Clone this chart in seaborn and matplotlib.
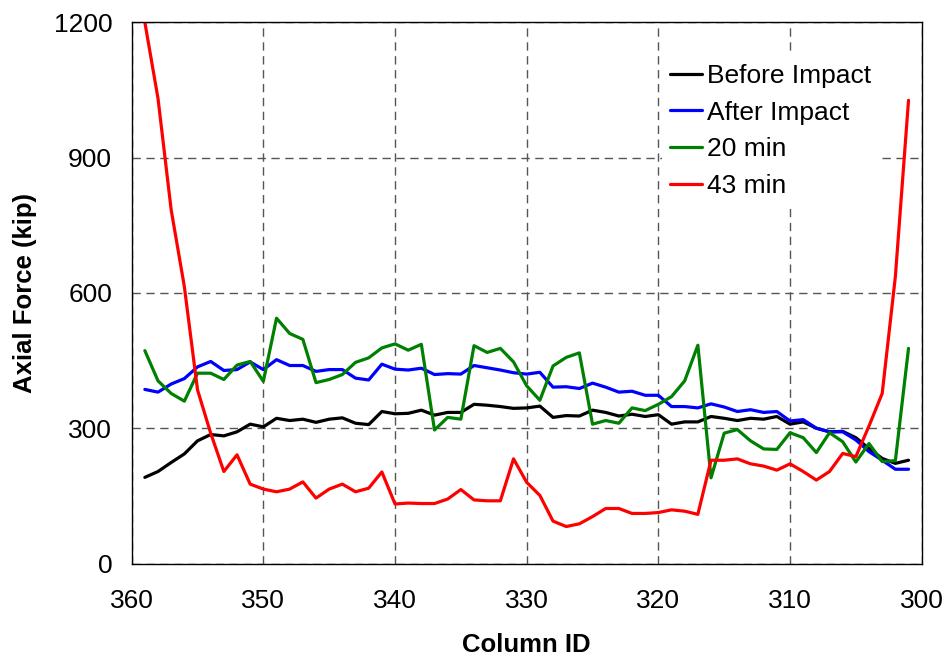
import numpy as np
import pandas as pd
import matplotlib
matplotlib.use("Agg")
import matplotlib.pyplot as plt
import seaborn as sns

# column IDs, read right-to-left on the chart (359 -> 301)
columns = list(range(359, 300, -1))

before_impact = [191, 204, 224, 243, 272, 286, 283, 292, 309, 303,
                 322, 317, 320, 313, 320, 323, 311, 308, 337, 332,
                 333, 340, 329, 335, 335, 353, 351, 348, 344, 345,
                 349, 324, 328, 327, 340, 335, 327, 331, 326, 330,
                 309, 314, 314, 326, 322, 317, 322, 320, 326, 309,
                 314, 300, 292, 293, 279, 255, 233, 222, 229]
after_impact = [386, 380, 398, 410, 436, 448, 428, 430, 447, 430,
                452, 439, 439, 426, 430, 430, 411, 407, 442, 431,
                429, 433, 419, 421, 420, 439, 434, 429, 423, 420,
                424, 391, 392, 388, 400, 391, 380, 382, 373, 373,
                348, 348, 345, 354, 347, 337, 341, 335, 337, 316,
                319, 300, 292, 292, 274, 248, 229, 209, 209]
min_20 = [472, 405, 377, 360, 422, 422, 408, 440, 448, 404,
          544, 510, 497, 401, 408, 419, 446, 456, 478, 487,
          473, 486, 296, 324, 320, 483, 468, 477, 447, 394,
          362, 438, 457, 467, 309, 317, 311, 345, 339, 353,
          370, 405, 484, 190, 289, 297, 272, 254, 253, 290,
          279, 246, 290, 270, 225, 266, 226, 228, 477]
min_43 = [1200, 1031, 784, 614, 385, 289, 204, 241, 176, 165,
          159, 165, 181, 145, 165, 176, 159, 167, 203, 132,
          134, 133, 133, 143, 164, 141, 139, 139, 232, 180,
          151, 94, 82, 88, 104, 122, 122, 111, 111, 113,
          119, 116, 109, 229, 229, 232, 221, 216, 207, 221,
          204, 185, 204, 244, 237, 305, 377, 636, 1027]

series_names = ["Before Impact", "After Impact", "20 min", "43 min"]
series_colors = ["#000000", "#0000FF", "#008000", "#FF0000"]

x_ticks = [360, 350, 340, 330, 320, 310, 300]
y_ticks = [0, 300, 600, 900, 1200]

df = pd.DataFrame({
    "Column ID": columns * 4,
    "Axial Force (kip)": before_impact + after_impact + min_20 + min_43,
    "series": sum([[n] * len(columns) for n in series_names], []),
})

sns.set_theme(style="white")
plt.rcParams["font.family"] = ["Liberation Sans", "DejaVu Sans"]
plt.rcParams["text.color"] = "black"
plt.rcParams["axes.labelcolor"] = "black"

fig = plt.figure(figsize=(9.46, 6.6), dpi=100)
ax = fig.add_axes([0.1392, 0.1462, 0.9743 - 0.1392, 0.9662 - 0.1462])

sns.lineplot(data=df, x="Column ID", y="Axial Force (kip)", hue="series",
             hue_order=series_names, palette=dict(zip(series_names, series_colors)),
             linewidth=2.3, ax=ax, legend=True)

ax.set_xlim(360, 300)
ax.set_ylim(0, 1200)
ax.set_xticks(x_ticks)
ax.set_yticks(y_ticks)
ax.grid(True, color="#555555", linestyle=(0, (6, 4)), linewidth=1.0)
ax.set_axisbelow(True)

for s in ax.spines.values():
    s.set_color("black")
    s.set_linewidth(1.0)

ax.tick_params(axis="both", direction="out", length=6, width=1.0,
               color="black", labelsize=19, labelcolor="black")
ax.tick_params(axis="y", pad=8)
ax.tick_params(axis="x", pad=12)
ax.set_xlabel("Column ID", fontsize=18.5, fontweight="bold", labelpad=15)
ax.set_ylabel("Axial Force (kip)", fontsize=18.5, fontweight="bold", labelpad=12)

handles, labels = ax.get_legend_handles_labels()
leg = ax.legend(handles, labels, loc="upper left",
                bbox_to_anchor=(662 / 946, 1 - 56 / 660), bbox_transform=fig.transFigure,
                fontsize=19, frameon=True, fancybox=False, framealpha=1.0,
                edgecolor="none", facecolor="white", borderpad=0.3,
                borderaxespad=0, handlelength=1.2, handletextpad=0.2,
                labelspacing=0.48)
for line in leg.get_lines():
    line.set_linewidth(2.3)

fig.savefig("out.png", dpi=100)
plt.close()
